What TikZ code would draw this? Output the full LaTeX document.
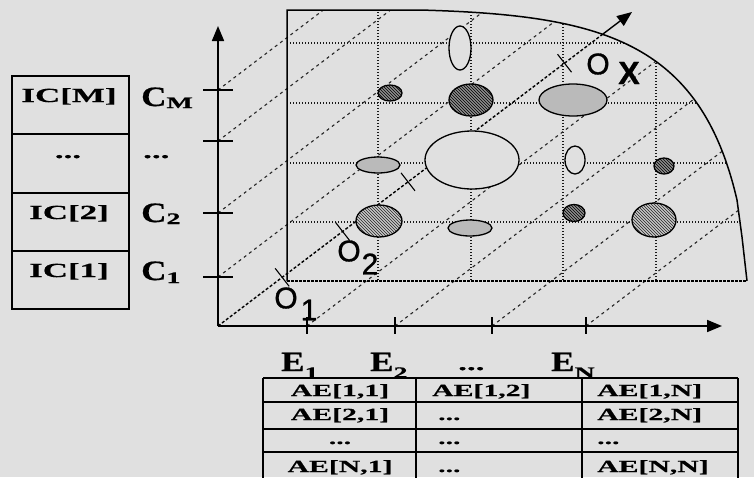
\documentclass[tikz,border=0pt]{standalone}
\usepackage{fontspec}
\setmainfont{Liberation Serif}
\newfontfamily\wfa[FakeStretch=1.75,FakeBold=0.6]{Liberation Serif}
\newfontfamily\wfc[FakeStretch=1.25,FakeBold=0.6]{Liberation Serif}
\newfontfamily\sfo[FakeBold=1]{Liberation Sans}
\usetikzlibrary{arrows.meta,patterns,calc}
\newcommand{\lsub}[2]{\raisebox{#1}{\wfa\bfseries\fontsize{16}{16}\selectfont #2}}
\begin{document}
\begin{tikzpicture}[x=1pt,y=-1pt,
 axisline/.style={line width=1.7pt, black},
 tickline/.style={line width=1.3pt, black},
 gridline/.style={line width=1.3pt, black!90, dash pattern=on 1.2pt off 1.8pt},
 diagline/.style={line width=1.1pt, black!85, dash pattern=on 3pt off 3.5pt},
 maindiag/.style={line width=1.4pt, black, dash pattern=on 3pt off 2pt},
 planeline/.style={line width=1.5pt, black},
 planebottom/.style={line width=1.5pt, black, dash pattern=on 2.5pt off 1.5pt},
 darkblob/.style={draw=black, line width=1.3pt, preaction={fill=black!45}, pattern=north west lines, pattern color=black},
 midblob/.style={draw=black, line width=1.3pt, preaction={fill=black!22}, pattern=north west lines, pattern color=black!85},
 crossblob/.style={draw=black, line width=1.3pt, fill=black!27},
 lightblob/.style={draw=black, line width=1.3pt, fill=black!12},
 tabline/.style={line width=1.4pt, black},
 ictxt/.style={font=\wfa\bfseries\fontsize{20}{24}\selectfont, inner sep=0pt, anchor=base},
 aetxt/.style={font=\wfa\bfseries\fontsize{17}{20}\selectfont, inner sep=0pt, anchor=base},
 clab/.style={font=\wfc\bfseries\fontsize{28}{30}\selectfont, inner sep=0pt, anchor=base west},
 dotlab/.style={font=\wfa\bfseries\fontsize{20}{24}\selectfont, inner sep=0pt, anchor=base west},
 olab/.style={font=\sfo\fontsize{30}{32}\selectfont, inner sep=0pt},
 arrowtip/.style={-{Triangle[length=15pt,width=12pt]}, line width=1.7pt, black}
]
% background and page size
\fill[black!12] (0,0) rectangle (754,477);
\useasboundingbox (0,0) rectangle (754,477);

% key coordinates
\coordinate (orig) at (218,326);
\coordinate (ytip) at (218,26);
\coordinate (xtip) at (722,326);
\coordinate (dtip) at (632,12);
\coordinate (dpre) at ($(orig)!0.93!(dtip)$);

% grid inside the plane
\begin{scope}
\clip (287,281) -- (287,10) -- (420,10) .. controls (600,15) and (700,40) .. (737,200) -- (742,237) -- (747,281) -- cycle;
\foreach \yy in {43,103,163,222} \draw[gridline] (287,\yy) -- (760,\yy);
\foreach \xx in {378,471,563,656} \draw[gridline] (\xx,0) -- (\xx,281);
\end{scope}

% diagonal projection lines
\begin{scope}
\clip (218,326) -- (218,10) -- (420,10) .. controls (600,15) and (700,40) .. (737,200) -- (742,237) -- (747,281) -- (760,330) -- cycle;
\foreach \yy in {90,141,213,277} \draw[diagline] (218,\yy) -- ++(822,-624);
\foreach \xx in {307,395,492,586} \draw[diagline] (\xx,326) -- ++(822,-624);
\end{scope}

% plane outline
\draw[planeline] (287,281) -- (287,10) -- (420,10) .. controls (600,15) and (700,40) .. (737,200) -- (742,237) -- (747,281);
\draw[planebottom] (287,281) -- (747,281);

% main diagonal axis
\draw[maindiag] (orig) -- (dpre);
\draw[arrowtip, line width=1.4pt] (dpre) -- (dtip);
\foreach \f in {0.155,0.301,0.459,0.837}
  \draw[tickline, line width=1.1pt] ($(orig)!\f!(dtip)+(-7,-9)$) -- ++(14,18);

% axes
\draw[axisline, arrowtip] (orig) -- (ytip);
\draw[axisline, arrowtip] (orig) -- (xtip);
\foreach \yy in {90,141,213,277} \draw[tickline] (203,\yy) -- (233,\yy);
\foreach \xx in {307,395,492,586} \draw[tickline] (\xx,317) -- (\xx,334);

% blobs
\draw[lightblob] (460,48) ellipse [x radius=11pt, y radius=22pt];
\draw[darkblob]  (390,93) ellipse [x radius=12pt, y radius=8pt];
\draw[darkblob]  (471,100) ellipse [x radius=22pt, y radius=16pt];
\draw[crossblob] (573,100) ellipse [x radius=34pt, y radius=16pt];
\draw[lightblob] (472,160) ellipse [x radius=47pt, y radius=29pt];
\draw[crossblob] (378,165) ellipse [x radius=22pt, y radius=8pt];
\draw[lightblob] (575,160) ellipse [x radius=10pt, y radius=14pt];
\draw[darkblob]  (664,166) ellipse [x radius=10pt, y radius=8pt];
\draw[midblob]   (379,221) ellipse [x radius=23pt, y radius=16pt];
\draw[crossblob] (470,228) ellipse [x radius=22pt, y radius=8pt];
\draw[darkblob]  (574,213) ellipse [x radius=11pt, y radius=8.5pt];
\draw[midblob]   (654,220) ellipse [x radius=22pt, y radius=17pt];

% origin labels
\node[olab] (o1) at (286,298) {O};
\node[olab] (o1s) at (309,310) {1};
\node[olab] (o2) at (349,251) {O};
\node[olab] (o2s) at (370,264) {2};
\node[olab] (oxo) at (598,64) {O};
\node[olab, font=\sfo\bfseries\fontsize{32}{34}\selectfont] (oxx) at (629,73) {X};

% left table
\draw[tabline] (12,76) rectangle (129,309);
\draw[tabline] (12,134) -- (129,134);
\draw[tabline] (12,193) -- (129,193);
\draw[tabline] (12,251) -- (129,251);
\node[ictxt] (icm) at (69,102) {IC[M]};
\node[ictxt] (icd) at (68,158) {...};
\node[ictxt] (ic2) at (69,219) {IC[2]};
\node[ictxt] (ic1) at (69,277) {IC[1]};

% C labels
\node[clab] (cm) at (141,106) {C\lsub{-2pt}{M}};
\node[dotlab] (cd) at (143,158) {...};
\node[clab] (c2) at (141,222) {C\lsub{-2pt}{2}};
\node[clab] (c1) at (141,280) {C\lsub{-3pt}{1}};

% E labels
\node[clab] (e1) at (281,371) {E\lsub{-7pt}{1}};
\node[clab] (e2) at (370,371) {E\lsub{-7pt}{2}};
\node[dotlab] (ed) at (458,370) {...};
\node[clab] (en) at (551,371) {E\lsub{-7pt}{N}};

% bottom table
\draw[tabline] (263,378) -- (738,378);
\draw[tabline] (263,402) -- (738,402);
\draw[tabline] (263,429) -- (738,429);
\draw[tabline] (263,452) -- (738,452);
\draw[tabline] (263,378) -- (263,480);
\draw[tabline] (416,378) -- (416,480);
\draw[tabline] (582,378) -- (582,480);
\draw[tabline] (738,378) -- (738,480);

\node[aetxt] (a11) at (340,396) {AE[1,1]};
\node[aetxt, anchor=base west] (a12) at (432,396) {AE[1,2]};
\node[aetxt, anchor=base west] (a1n) at (597,396) {AE[1,N]};
\node[aetxt] (a21) at (340,420) {AE[2,1]};
\node[aetxt, anchor=base west] (a22) at (438,420) {...};
\node[aetxt, anchor=base west] (a2n) at (597,420) {AE[2,N]};
\node[aetxt] (a31) at (340,444) {...};
\node[aetxt, anchor=base west] (a32) at (438,444) {...};
\node[aetxt, anchor=base west] (a3n) at (597,444) {...};
\node[aetxt] (a41) at (340,472) {AE[N,1]};
\node[aetxt, anchor=base west] (a42) at (438,472) {...};
\node[aetxt, anchor=base west] (a4n) at (597,472) {AE[N,N]};
\end{tikzpicture}
\end{document}
